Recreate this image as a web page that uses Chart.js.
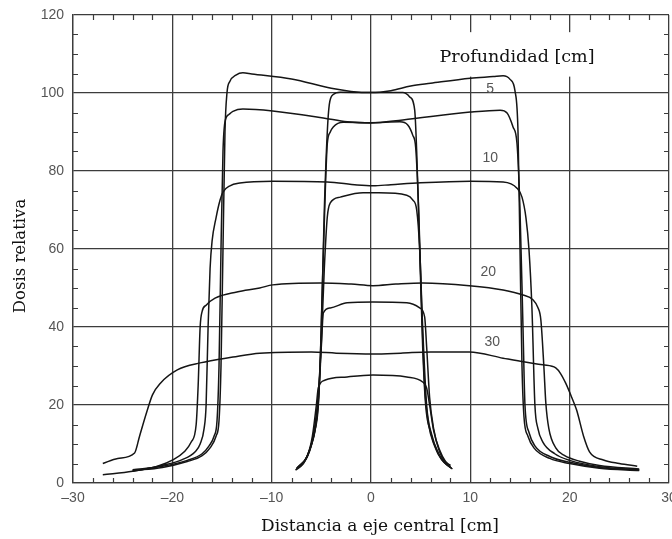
<!DOCTYPE html>
<html>
<head>
<meta charset="utf-8">
<script src="https://cdn.jsdelivr.net/npm/chart.js@4"></script>
<style>
  html, body { margin: 0; padding: 0; background: #fff; }
  canvas { display: block; }
</style>
</head>
<body>
<canvas id="grafico" width="672" height="539"></canvas>
<script>
// Ejes
const ticksX = [-30, -20, -10, 0, 10, 20, 30];
const ticksY = [0, 20, 40, 60, 80, 100, 120];
const menoresX = [-28,-26,-24,-22,-18,-16,-14,-12,-8,-6,-4,-2,2,4,6,8,12,14,16,18,22,24,26,28];
const menoresY = [5,10,15,25,30,35,45,50,55,65,70,75,85,90,95,105,110,115];

// Campo grande (bordes en ~±15 cm)
const grande5 = [[-24,3.2],[-21,4],[-18.5,5.5],[-17,7],[-16.2,9],[-15.6,12],[-15.3,16],[-15.1,30],[-14.9,60],[-14.7,90],[-14.5,100],[-14.2,103],[-13.6,104.6],[-12.9,105.2],[-12,104.9],[-8,103.6],[-4,101.2],[-2,100.4],[0,100.1],[2,100.6],[4,101.8],[6,102.5],[10,103.8],[12.3,104.2],[13.3,104.4],[14,103.5],[14.5,100.5],[14.8,90],[15,60],[15.2,30],[15.4,17],[15.8,12],[16.4,9],[18,6.3],[20,5],[23,3.8],[27,3.2]];
const grande10 = [[-24,3.4],[-21,4.3],[-18.5,5.8],[-17,7.5],[-16.3,9.5],[-15.8,12],[-15.5,16],[-15.3,30],[-15.1,60],[-14.9,85],[-14.7,92.6],[-14.3,94.5],[-13.9,95.3],[-12.9,95.9],[-9.9,95.4],[-4.8,93.6],[-2.4,92.6],[0,92.3],[3.2,93.1],[10,95.1],[13,95.6],[13.7,94.9],[14.3,91.3],[14.7,87],[15,70],[15.3,40],[15.5,20],[15.9,13],[16.5,9.5],[18,6.8],[20,5.3],[23,4],[27,3.3]];
const grande15 = [[-24,3],[-21,4.5],[-19,6],[-17.7,8],[-17.2,10],[-16.8,14],[-16.6,20],[-16.4,40],[-16.2,55],[-16,62],[-15.6,68],[-15.2,72.5],[-14.9,74.6],[-14.2,76.2],[-13.2,76.9],[-9.9,77.4],[-4.4,77.2],[-1.4,76.4],[0.2,76.2],[2,76.5],[5,77],[10,77.4],[13.3,77.2],[14.7,75.6],[15.2,73.3],[15.6,68],[15.9,60],[16.2,45],[16.5,20],[16.8,14],[17.3,10.5],[18.5,7.5],[20,5.8],[23,4.2],[27,3.4]];
const grande20 = [[-27,2.1],[-24,3],[-21.5,4.3],[-19.9,6],[-18.8,8],[-18.1,10.5],[-17.6,15],[-17.4,25],[-17.2,40],[-17,44],[-16.6,45.6],[-15.7,47.4],[-13.5,49],[-11.2,50],[-9.9,50.8],[-5.1,51.3],[-2,51],[0.2,50.6],[2.5,51],[5.2,51.3],[9.9,50.6],[13.3,49.5],[15.3,48.2],[16.3,47],[16.8,45],[17.1,41.8],[17.4,30],[17.6,20.5],[17.9,14],[18.6,9],[19.5,7],[21,5.6],[23,4.5],[27,3.6]];
const grande30 = [[-27,5],[-25.5,6.3],[-23.8,7.7],[-23.3,12],[-22.6,18],[-22,22.6],[-21.2,25.6],[-19.5,29],[-17.2,30.8],[-13.9,32.3],[-11.2,33.3],[-6,33.6],[-3.5,33.3],[0.2,33.1],[3,33.3],[6,33.6],[9.9,33.6],[13.3,32],[15.5,31],[17.3,30.3],[18.6,29.5],[19.1,28],[19.6,25.6],[20.2,22],[20.7,18.7],[21.4,12],[22,8],[23.4,5.9],[25,5],[26.8,4.3]];

// Campo pequeño (bordes en ~±5 cm)
const chico5 = [[-7.6,3.3],[-6.8,5],[-6.2,8],[-5.7,13],[-5.3,20],[-5,40],[-4.7,70],[-4.4,90],[-4.2,97],[-3.8,99.6],[-3.1,100.2],[0,100.1],[3.2,100.1],[3.9,99],[4.4,95.6],[4.6,85],[4.9,60],[5.2,35],[5.5,20],[6,13],[6.6,8.5],[7.3,5.5],[8.2,3.6]];
const chico10 = [[-7.5,3.6],[-6.7,5.5],[-6.1,9],[-5.6,14],[-5.2,25],[-4.9,50],[-4.6,75],[-4.4,87],[-4.1,90],[-3.8,91.3],[-2.8,92.5],[0,92.4],[2.9,92.6],[3.7,91.8],[4.2,89.2],[4.5,86],[4.8,70],[5.1,45],[5.4,25],[5.8,15],[6.4,9.5],[7.1,6],[8.1,3.8]];
const chico15 = [[-7.5,3.8],[-6.6,6],[-6,10],[-5.5,16],[-5.1,30],[-4.7,55],[-4.4,68.2],[-4.1,71.8],[-3.1,73.3],[-0.8,74.4],[0.8,74.4],[3.6,73.8],[4.2,72.6],[4.6,70],[4.9,60],[5.2,40],[5.6,20],[6.1,12.5],[6.8,7.5],[7.5,5],[8,4]];
const chico20 = [[-7.4,4],[-6.5,6.5],[-5.9,11],[-5.4,20],[-5,35],[-4.8,43.6],[-4.1,44.9],[-2.4,46.2],[0.2,46.4],[3.6,46.2],[4.9,44.9],[5.4,42.6],[5.6,35],[5.9,22],[6.3,14],[6.9,8],[7.6,5],[8,4.2]];
const chico30 = [[-7.3,4.2],[-6.4,7],[-5.9,12],[-5.5,20],[-5.3,24.4],[-4.6,26.4],[-2.4,27.2],[0.2,27.7],[3.6,27.2],[5.2,25.9],[5.6,24.4],[5.9,20],[6.3,13.5],[6.9,8.5],[7.5,5.5],[8,4.5]];

// Etiquetas de profundidad dentro del gráfico
const etiquetas = ["5", "10", "20", "30"];
const etiquetasX = [12.0, 12.0, 11.8, 12.2];
const etiquetasY = [101, 83.3, 54, 36.2];

const curvas = [grande5, grande10, grande15, grande20, grande30, chico5, chico10, chico15, chico20, chico30];

const colorLinea = "#151515";
const colorGrilla = "#3c3c3c";

const extras = {
  id: "extras",
  beforeDatasetsDraw(chart) {
    const { ctx, chartArea: a, scales: { x, y } } = chart;
    ctx.save();
    // caja blanca detrás del título de la leyenda
    ctx.fillStyle = "#fff";
    const x0 = x.getPixelForValue(7), x1 = x.getPixelForValue(23.2);
    const y0 = y.getPixelForValue(115.6), y1 = y.getPixelForValue(104.2);
    ctx.fillRect(x0, y0, x1 - x0, y1 - y0);
    // marcas menores en los cuatro lados
    ctx.strokeStyle = colorGrilla;
    ctx.lineWidth = 1.2;
    ctx.beginPath();
    menoresX.forEach(v => {
      const px = Math.round(x.getPixelForValue(v)) + 0.5;
      ctx.moveTo(px, a.bottom); ctx.lineTo(px, a.bottom - 5);
      ctx.moveTo(px, a.top); ctx.lineTo(px, a.top + 5);
    });
    menoresY.forEach(v => {
      const py = Math.round(y.getPixelForValue(v)) + 0.5;
      ctx.moveTo(a.left, py); ctx.lineTo(a.left + 5, py);
      ctx.moveTo(a.right, py); ctx.lineTo(a.right - 5, py);
    });
    ctx.stroke();
    ctx.restore();
  },
  afterDraw(chart) {
    const { ctx, scales: { x, y } } = chart;
    ctx.save();
    ctx.fillStyle = "#555";
    ctx.font = "14px 'Liberation Sans', Arial, sans-serif";
    ctx.textAlign = "center";
    ctx.textBaseline = "middle";
    etiquetas.forEach((t, i) => {
      ctx.fillText(t, x.getPixelForValue(etiquetasX[i]), y.getPixelForValue(etiquetasY[i]));
    });
    ctx.fillStyle = "#111";
    ctx.font = "17.5px 'DejaVu Serif', serif";
    ctx.fillText("Profundidad [cm]", x.getPixelForValue(14.7), y.getPixelForValue(109));
    // títulos de los ejes
    ctx.font = "17px 'DejaVu Serif', serif";
    ctx.fillText("Distancia a eje central [cm]", 380, 527);
    ctx.translate(21, 256);
    ctx.rotate(-Math.PI / 2);
    ctx.font = "16.5px 'DejaVu Serif', serif";
    ctx.fillText("Dosis relativa", 0, 0);
    ctx.restore();
  }
};

new Chart(document.getElementById("grafico"), {
  type: "scatter",
  data: {
    datasets: curvas.map(c => ({
      data: c.map(p => ({ x: p[0], y: p[1] })),
      showLine: true,
      borderColor: colorLinea,
      borderWidth: 1.5,
      pointRadius: 0,
      cubicInterpolationMode: "monotone"
    }))
  },
  options: {
    responsive: false,
    animation: false,
    layout: { padding: { top: 15, right: 3, left: 0, bottom: 0 } },
    plugins: { legend: { display: false }, tooltip: { enabled: false } },
    scales: {
      x: {
        type: "linear",
        min: -30,
        max: 30,
        afterBuildTicks: s => { s.ticks = ticksX.map(v => ({ value: v })); },
        afterFit: s => { s.height = 56; s.paddingLeft = 0; s.paddingRight = 0; },
        grid: { color: colorGrilla, lineWidth: 1.3, drawTicks: false },
        border: { color: colorGrilla, width: 1.3 },
        ticks: {
          padding: 7,
          color: "#555",
          font: { family: "'Liberation Sans', Arial", size: 14 },
          callback: v => (v < 0 ? "\u2013" + Math.abs(v) : String(v))
        }
      },
      y: {
        type: "linear",
        min: 0,
        max: 120,
        afterBuildTicks: s => { s.ticks = ticksY.map(v => ({ value: v })); },
        afterFit: s => { s.width = 73; s.paddingTop = 0; s.paddingBottom = 0; },
        grid: { color: colorGrilla, lineWidth: 1.3, drawTicks: false },
        border: { color: colorGrilla, width: 1.3 },
        ticks: {
          padding: 9,
          color: "#555",
          font: { family: "'Liberation Sans', Arial", size: 14 }
        }
      }
    }
  },
  plugins: [extras]
});
</script>
</body>
</html>
